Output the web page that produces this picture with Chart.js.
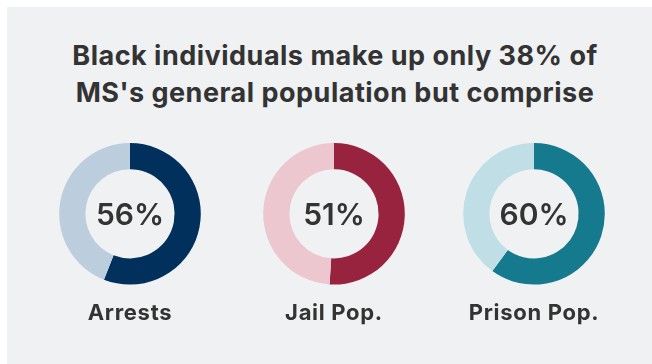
<!DOCTYPE html>
<html>
<head>
<meta charset="utf-8">
<script src="https://cdn.jsdelivr.net/npm/chart.js@4/dist/chart.umd.min.js"></script>
<style>
  html, body { margin: 0; padding: 0; background: #ffffff; width: 652px; height: 364px; overflow: hidden; }
  #panel { position: absolute; left: 7px; top: 7px; width: 645px; height: 357px; background: #f0f1f3; }
  #title { position: absolute; left: 35px; width: 600px; top: 37px; text-align: center;
           font-family: Inter, sans-serif; font-weight: 700; font-size: 27px; line-height: 37px;
           letter-spacing: 0.5px; color: #333333; }
  .box { position: absolute; top: 143px; width: 200px; height: 184px; }
</style>
</head>
<body>
<div id="panel"></div>
<div id="title"></div>
<div class="box" style="left:30px"><canvas id="c0"></canvas></div>
<div class="box" style="left:234px"><canvas id="c1"></canvas></div>
<div class="box" style="left:434px"><canvas id="c2"></canvas></div>
<script>
// ---- data ----
const titleLines = ["Black individuals make up only 38% of", "MS's general population but comprise"];
const categories = ["Arrests", "Jail Pop.", "Prison Pop."];
const blackShare = [56, 51, 60];
const otherShare = [44, 49, 40];

// ---- styles ----
const darkColors = ["#00305b", "#97233f", "#167a8f"];
const lightColors = ["#bccddd", "#ecc7d0", "#bfdee6"];
const textColor = "#333333";

document.getElementById('title').innerHTML = titleLines.join('<br>');

const spacing = {
  id: 'spacing',
  beforeDraw(chart) { chart.ctx.letterSpacing = '0.7px'; }
};

const centerText = {
  id: 'centerText',
  afterDraw(chart, args, opts) {
    const arc = chart.getDatasetMeta(0).data[0];
    if (!arc) return;
    const ctx = chart.ctx;
    ctx.save();
    ctx.letterSpacing = '0px';
    ctx.font = '600 30px Inter, sans-serif';
    ctx.fillStyle = textColor;
    ctx.textAlign = 'center';
    ctx.textBaseline = 'alphabetic';
    ctx.fillText(opts.text, arc.x, arc.y + 11.5);
    ctx.restore();
  }
};

categories.forEach((cat, i) => {
  new Chart(document.getElementById('c' + i), {
    type: 'doughnut',
    data: {
      labels: ['Black', 'Other'],
      datasets: [{
        data: [blackShare[i], otherShare[i]],
        backgroundColor: [darkColors[i], lightColors[i]],
        borderWidth: 0,
        hoverOffset: 0
      }]
    },
    options: {
      responsive: true,
      maintainAspectRatio: false,
      animation: false,
      cutout: '63%',
      layout: { padding: 0 },
      events: [],
      plugins: {
        legend: { display: false },
        tooltip: { enabled: false },
        title: {
          display: true,
          position: 'bottom',
          text: cat,
          color: textColor,
          font: { family: 'Inter, sans-serif', size: 22, weight: '700', lineHeight: 1.2 },
          padding: { top: 16, bottom: 0 }
        },
        centerText: { text: blackShare[i] + '%' }
      }
    },
    plugins: [spacing, centerText]
  });
});
</script>
</body>
</html>
